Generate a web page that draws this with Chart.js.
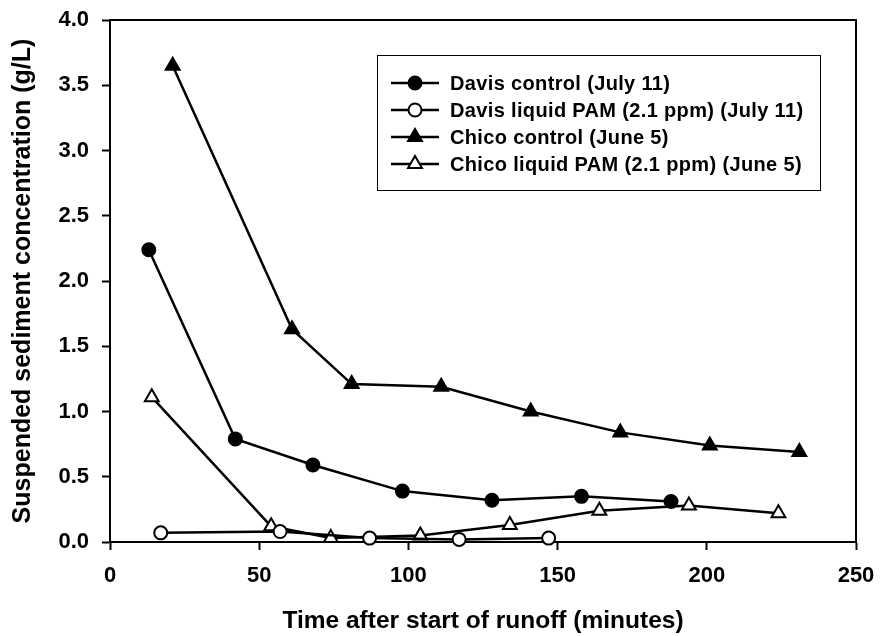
<!DOCTYPE html>
<html>
<head>
<meta charset="utf-8">
<script src="https://cdn.jsdelivr.net/npm/chart.js@4.4.1/dist/chart.umd.min.js"></script>
<style>
  body { margin: 0; background: #fff; }
</style>
</head>
<body>
<canvas id="sedimentChart" width="882" height="636"></canvas>
<script>
// data
const davisControlTime = [13, 42, 68, 98, 128, 158, 188];
const davisControlConc = [2.24, 0.79, 0.59, 0.39, 0.32, 0.35, 0.31];

const davisPamTime = [17, 57, 87, 117, 147];
const davisPamConc = [0.07, 0.08, 0.03, 0.02, 0.03];

const chicoControlTime = [21, 61, 81, 111, 141, 171, 201, 231];
const chicoControlConc = [3.65, 1.63, 1.21, 1.19, 1.0, 0.84, 0.74, 0.69];

const chicoPamTime = [14, 54, 74, 104, 134, 164, 194, 224];
const chicoPamConc = [1.11, 0.12, 0.03, 0.05, 0.13, 0.24, 0.28, 0.22];

const seriesLabels = [
  "Davis control (July 11)",
  "Davis liquid PAM (2.1 ppm) (July 11)",
  "Chico control (June 5)",
  "Chico liquid PAM (2.1 ppm) (June 5)",
];

const xTicks = [0, 50, 100, 150, 200, 250];
const yTicks = [0, 0.5, 1.0, 1.5, 2.0, 2.5, 3.0, 3.5, 4.0];

const toPoints = (xs, ys) => xs.map((x, i) => ({ x: x, y: ys[i] }));

const FONT = "'Liberation Sans', Arial, sans-serif";

const makeSet = (label, xs, ys, style, fill) => ({
  label: label,
  data: toPoints(xs, ys),
  borderColor: "#000",
  borderWidth: 2.5,
  pointStyle: style,
  pointRadius: style === "triangle" ? 8 : 6.5,
  pointHoverRadius: style === "triangle" ? 8 : 6.5,
  pointBackgroundColor: fill,
  pointBorderColor: "#000",
  pointBorderWidth: 2,
  tension: 0,
  clip: false,
});

// top + right sides of the frame
const frameBox = {
  id: "frameBox",
  afterDraw(chart) {
    const { ctx, chartArea } = chart;
    ctx.save();
    ctx.strokeStyle = "#000";
    ctx.lineWidth = 2;
    ctx.beginPath();
    ctx.moveTo(chartArea.left, chartArea.top);
    ctx.lineTo(chartArea.right, chartArea.top);
    ctx.lineTo(chartArea.right, chartArea.bottom);
    ctx.stroke();
    ctx.restore();
  },
};

// boxed legend inside the plot
const boxLegend = {
  id: "boxLegend",
  afterDraw(chart, args, opts) {
    const ctx = chart.ctx;
    ctx.save();
    ctx.strokeStyle = "#000";
    ctx.lineWidth = 1;
    ctx.strokeRect(opts.left + 0.5, opts.top + 0.5, opts.width, opts.height);
    ctx.font = "bold 20px " + FONT;
    ctx.letterSpacing = "0.35px";
    ctx.textBaseline = "middle";
    chart.data.datasets.forEach((ds, i) => {
      const y = opts.top + opts.firstRow + i * opts.rowGap;
      ctx.beginPath();
      ctx.lineWidth = 2.5;
      ctx.strokeStyle = "#000";
      ctx.moveTo(opts.left + 14, y);
      ctx.lineTo(opts.left + 62, y);
      ctx.stroke();
      ctx.fillStyle = ds.pointBackgroundColor;
      ctx.strokeStyle = ds.pointBorderColor;
      ctx.lineWidth = ds.pointBorderWidth;
      Chart.helpers.drawPoint(ctx, {
        pointStyle: ds.pointStyle,
        radius: ds.pointRadius,
        borderWidth: ds.pointBorderWidth,
        rotation: 0,
      }, opts.left + 38, y);
      ctx.fillStyle = "#000";
      ctx.fillText(ds.label, opts.left + 73, y + 1);
    });
    ctx.restore();
  },
};

const ctx = document.getElementById("sedimentChart").getContext("2d");
const sedimentChart = new Chart(ctx, {
  type: "line",
  data: {
    datasets: [
      makeSet(seriesLabels[0], davisControlTime, davisControlConc, "circle", "#000"),
      makeSet(seriesLabels[1], davisPamTime, davisPamConc, "circle", "#fff"),
      makeSet(seriesLabels[2], chicoControlTime, chicoControlConc, "triangle", "#000"),
      makeSet(seriesLabels[3], chicoPamTime, chicoPamConc, "triangle", "#fff"),
    ],
  },
  options: {
    responsive: false,
    animation: false,
    layout: {
      padding: { left: 0, right: 26, top: 20, bottom: 0 },
    },
    plugins: {
      legend: { display: false },
      tooltip: { enabled: false },
      boxLegend: { left: 377, top: 55, width: 443, height: 135, firstRow: 28, rowGap: 27 },
    },
    scales: {
      x: {
        type: "linear",
        min: 0,
        max: 250,
        afterBuildTicks: (scale) => {
          scale.ticks = xTicks.map((v) => ({ value: v }));
        },
        afterFit: (scale) => {
          scale.height = 94;
          scale.paddingLeft = 0;
          scale.paddingRight = 0;
        },
        ticks: {
          color: "#000",
          padding: 13,
          font: { family: FONT, size: 22, weight: "bold" },
        },
        grid: {
          drawOnChartArea: false,
          drawTicks: true,
          tickLength: 8,
          tickColor: "#000",
          tickWidth: 2,
        },
        border: { display: true, color: "#000", width: 2 },
        title: {
          display: true,
          text: "Time after start of runoff (minutes)",
          color: "#000",
          padding: { top: 0, bottom: 0 },
          font: { family: FONT, size: 24.5, weight: "bold" },
        },
      },
      y: {
        type: "linear",
        min: 0,
        max: 4,
        afterBuildTicks: (scale) => {
          scale.ticks = yTicks.map((v) => ({ value: v }));
        },
        afterFit: (scale) => {
          scale.width = 110;
          scale.paddingTop = 0;
          scale.paddingBottom = 0;
        },
        ticks: {
          color: "#000",
          padding: 13,
          font: { family: FONT, size: 22, weight: "bold" },
          callback: (v) => Number(v).toFixed(1),
        },
        grid: {
          drawOnChartArea: false,
          drawTicks: true,
          tickLength: 8,
          tickColor: "#000",
          tickWidth: 2,
        },
        border: { display: true, color: "#000", width: 2 },
        title: {
          display: true,
          text: "Suspended sediment concentration (g/L)",
          color: "#000",
          padding: { top: 8, bottom: 0 },
          font: { family: FONT, size: 25, weight: "bold" },
        },
      },
    },
  },
  plugins: [frameBox, boxLegend],
});
</script>
</body>
</html>
